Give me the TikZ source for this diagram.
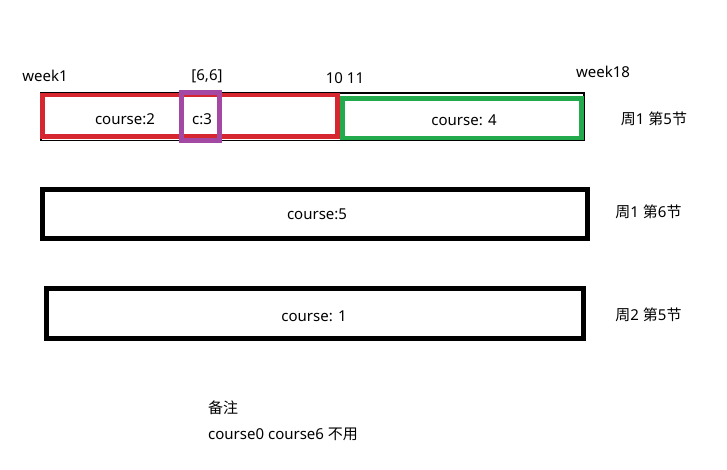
\documentclass[tikz,border=0pt]{standalone}
\usepackage{fontspec}
\setmainfont{Noto Sans}
\newfontfamily\cjk{Noto Sans CJK SC}
\definecolor{pred}{RGB}{214,38,48}
\definecolor{pgreen}{RGB}{34,170,76}
\definecolor{ppurple}{RGB}{163,73,164}
\tikzset{
  box/.style={draw, inner sep=0pt, line width=#1},
  lbl/.style={inner sep=0pt, font=\fontsize{15}{17}\selectfont, text=black},
}
\begin{document}
\begin{tikzpicture}[x=1pt,y=-1pt]
\useasboundingbox (0,0) rectangle (727,470);
% top row
\node[box=1.5pt, black, minimum width=543pt, minimum height=47.5pt] (frame) at (312.5,117) {};
\node[box=4.5pt, pred, minimum width=295pt, minimum height=41.5pt] (red) at (190,116) {};
\node[box=4.5pt, pgreen, minimum width=239pt, minimum height=39.5pt] (green) at (462,118.5) {};
\node[box=4.5pt, ppurple, minimum width=38pt, minimum height=48pt] (purple) at (200.5,116.5) {};
\node[lbl] (w1) at (45,76) {week1};
\node[lbl] (w66) at (207,76) {[6,6]};
\node[lbl] (w1011) at (345,78) {10 11};
\node[lbl] (w18) at (603,72) {week18};
\node[lbl] (c2) at (125,119) {course:2};
\node[lbl] (c3) at (202,119) {c:3};
\node[lbl] (c4) at (464,120) {course: 4};
\node[lbl] (r1) at (654,119) {{\cjk 周}1 {\cjk 第}5{\cjk 节}};
% row 2
\node[box=5pt, black, minimum width=545pt, minimum height=49pt] (row2) at (315,214) {};
\node[lbl] (c5) at (317,214) {course:5};
\node[lbl] (r2) at (648.5,212) {{\cjk 周}1 {\cjk 第}6{\cjk 节}};
% row 3
\node[box=5pt, black, minimum width=537pt, minimum height=50pt] (row3) at (315,313.5) {};
\node[lbl] (c1) at (314,316) {course: 1};
\node[lbl] (r3) at (648.5,315) {{\cjk 周}2 {\cjk 第}5{\cjk 节}};
% notes
\node[lbl, anchor=west] (n1) at (208,408) {\cjk 备注};
\node[lbl, anchor=west] (n2) at (208,434) {course0 course6 {\cjk 不用}};
\end{tikzpicture}
\end{document}
